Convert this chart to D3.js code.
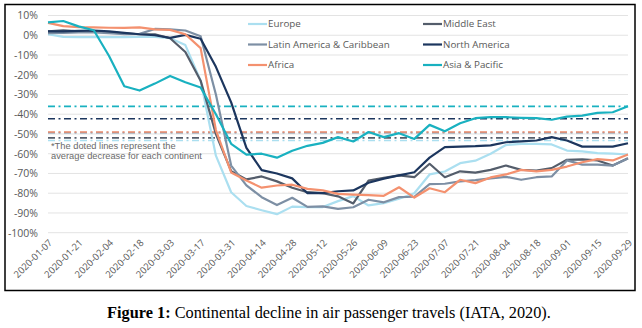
<!DOCTYPE html>
<html><head><meta charset="utf-8">
<script src="https://cdn.jsdelivr.net/npm/d3@7"></script>
<style>
body{margin:0;background:#fff;}
svg{display:block;}
</style></head>
<body>
<svg id="chart" width="642" height="328"></svg>
<script>
const dates = ["2020-01-07","2020-01-14","2020-01-21","2020-01-28","2020-02-04","2020-02-11","2020-02-18","2020-02-25","2020-03-03","2020-03-10","2020-03-17","2020-03-24","2020-03-31","2020-04-07","2020-04-14","2020-04-21","2020-04-28","2020-05-05","2020-05-12","2020-05-19","2020-05-26","2020-06-02","2020-06-09","2020-06-16","2020-06-23","2020-06-30","2020-07-07","2020-07-14","2020-07-21","2020-07-28","2020-08-04","2020-08-11","2020-08-18","2020-08-25","2020-09-01","2020-09-08","2020-09-15","2020-09-22","2020-09-29"];
const tickLabels = ["2020-01-07","2020-01-21","2020-02-04","2020-02-18","2020-03-03","2020-03-17","2020-03-31","2020-04-14","2020-04-28","2020-05-12","2020-05-26","2020-06-09","2020-06-23","2020-07-07","2020-07-21","2020-08-04","2020-08-18","2020-09-01","2020-09-15","2020-09-29"];
const yTicks = [10,0,-10,-20,-30,-40,-50,-60,-70,-80,-90,-100];

const europe = [0.5,-0.8,-1,-1,-1,-1,-0.8,-0.8,-1.5,-5,-23,-61,-79.5,-86.5,-88.6,-90.6,-86.8,-87,-87,-84,-81.5,-86.2,-85,-82.8,-80,-70.5,-69,-64.8,-63.5,-60,-55.6,-55,-55,-55.3,-58.4,-58.8,-59.7,-60,-60.4];
const middleEast = [2,2.5,2,2,1.5,1,0.5,0.5,-1.5,-8.5,-23,-50,-68.8,-73,-71.5,-74,-77.2,-79.5,-80,-81.6,-85.2,-73.6,-72.2,-71,-71.9,-65.1,-71.9,-68.9,-69.6,-68.2,-66,-68.2,-68.5,-67.3,-63.1,-62.9,-63.4,-66,-62.3];
const latinAmerica = [1,1.2,1.5,1.5,1,0.5,0.7,3.2,3,2.4,-0.5,-30,-66,-76,-82,-86,-82.3,-86.9,-86.7,-87.9,-87.1,-83.3,-84.6,-82,-81.8,-75.4,-75.2,-74,-73.4,-72.5,-71.7,-73.2,-71.9,-71.5,-63.4,-65.5,-65.5,-66,-62.4];
const northAmerica = [2,2,2.2,2.4,2,1.2,0.5,0,-1.3,0.2,-1.8,-16,-34,-57,-68.3,-70,-72.5,-80,-80,-79,-78.6,-74.7,-72.6,-71,-69.4,-62,-56.7,-56.4,-56.2,-55.8,-54.2,-53.7,-53.3,-51.6,-53.3,-56.4,-56.4,-56.4,-54.7];
const africa = [6.3,4.6,4.1,4,3.8,3.7,4,3,2.7,0.5,-6.5,-48,-69.5,-73.6,-77.2,-76.1,-75.7,-77.8,-78.6,-80.3,-80.7,-81,-81.3,-77,-82.2,-77.5,-79.5,-73.2,-74.9,-72,-70.5,-68.2,-68.9,-68.2,-66.5,-64.3,-62.7,-63.4,-60.4];
const asiaPacific = [6.5,7.2,4.5,2.5,-10.5,-25.8,-28,-24.5,-20.6,-23.8,-26.5,-40,-55,-60.5,-60,-62,-58.5,-56,-54.5,-51.6,-53.8,-49,-51.6,-49.6,-52.5,-45.4,-48.6,-44.6,-42,-41.5,-41.5,-41.8,-42,-42.8,-41.2,-40.7,-39.3,-39,-36];

const seriesNames = ["Europe","Middle East","Latin America & Caribbean","North America","Africa","Asia & Pacific"];
const seriesColors = ["#abdff0","#545d6b","#7d8fa4","#1c365e","#f4916f","#19b1c0"];
const seriesValues = [europe, middleEast, latinAmerica, northAmerica, africa, asiaPacific];
const averages = [-53.3, -52, -49.3, -42.3, -49, -36];
const note = ["*The doted lines represent the","average decrease for each continent"];

const svg = d3.select("#chart");
const parse = d3.timeParse("%Y-%m-%d");
const x = d3.scaleTime().domain([parse(dates[0]), parse(dates[dates.length-1])]).range([48, 628]);
const y = d3.scaleLinear().domain([-100, 10]).range([232.7, 15.5]);

// border
svg.append("rect").attr("x",5).attr("y",4.5).attr("width",630).attr("height",286)
  .attr("fill","none").attr("stroke","#000").attr("stroke-width",1.5);

// grid
svg.append("g").selectAll("line").data(yTicks).join("line")
  .attr("x1",48).attr("x2",628).attr("y1",d=>y(d)).attr("y2",d=>y(d))
  .attr("stroke","#e3e3e3").attr("stroke-width",1);

// y axis labels
const yAxis = d3.axisLeft(y).tickValues(yTicks).tickSize(0).tickPadding(0).tickFormat(d=>d+"%");
const ya = svg.append("g").attr("transform","translate(38,0)").call(yAxis);
ya.select(".domain").remove();
ya.selectAll("text").attr("fill","#595959").style("font-family","'Open Sans', sans-serif").style("font-size","10.5px");

// x axis labels
const xAxis = d3.axisBottom(x).tickValues(tickLabels.map(parse)).tickSize(0).tickFormat(d3.timeFormat("%Y-%m-%d"));
const xa = svg.append("g").attr("transform","translate(0,238)").call(xAxis);
xa.select(".domain").remove();
xa.selectAll("text").attr("fill","#595959").style("font-family","'Open Sans', sans-serif").style("font-size","9.5px")
  .attr("text-anchor","end").attr("dy","0.35em").attr("y",0).attr("x",0)
  .attr("transform","translate(2,3) rotate(-45)");

// average dash-dot lines
svg.append("g").selectAll("line").data(averages).join("line")
  .attr("x1",48).attr("x2",628).attr("y1",d=>y(d)).attr("y2",d=>y(d))
  .attr("stroke",(d,i)=>seriesColors[i]).attr("stroke-width",1.6)
  .attr("stroke-dasharray","7,3.5,2,3.5");

// note
svg.append("g").selectAll("text").data(note).join("text")
  .attr("x",51).attr("y",(d,i)=>148.5+i*10.9)
  .attr("fill","#6a6a6a").style("font-family","'Liberation Sans', Arial, sans-serif").style("font-size","9.3px")
  .text(d=>d);

// lines
const line = d3.line().x((d,i)=>x(parse(dates[i]))).y(d=>y(d));
svg.append("g").selectAll("path").data(seriesValues).join("path")
  .attr("d",d=>line(d)).attr("fill","none")
  .attr("stroke",(d,i)=>seriesColors[i]).attr("stroke-width",2.2).attr("stroke-linejoin","round");

// legend
const legPos = [[248,24],[423,24],[248,44.5],[423,44.5],[248,65],[423,65]];
const leg = svg.append("g").selectAll("g").data(seriesNames).join("g")
  .attr("transform",(d,i)=>`translate(${legPos[i][0]},${legPos[i][1]})`);
leg.append("line").attr("x1",0).attr("x2",19).attr("stroke",(d,i)=>seriesColors[i]).attr("stroke-width",2.2);
leg.append("text").attr("x",20).attr("dy","0.35em").attr("fill","#595959")
  .style("font-family","'Open Sans', sans-serif").style("font-size","9.8px").text(d=>d);

// caption
const cap = svg.append("text").attr("x",329).attr("y",318).attr("text-anchor","middle")
  .style("font-family","'Liberation Serif', 'Times New Roman', serif").style("font-size","16.3px").attr("fill","#000");
cap.append("tspan").attr("font-weight","bold").text("Figure 1:");
cap.append("tspan").text(" Continental decline in air passenger travels (IATA, 2020).");
</script>
</body></html>
